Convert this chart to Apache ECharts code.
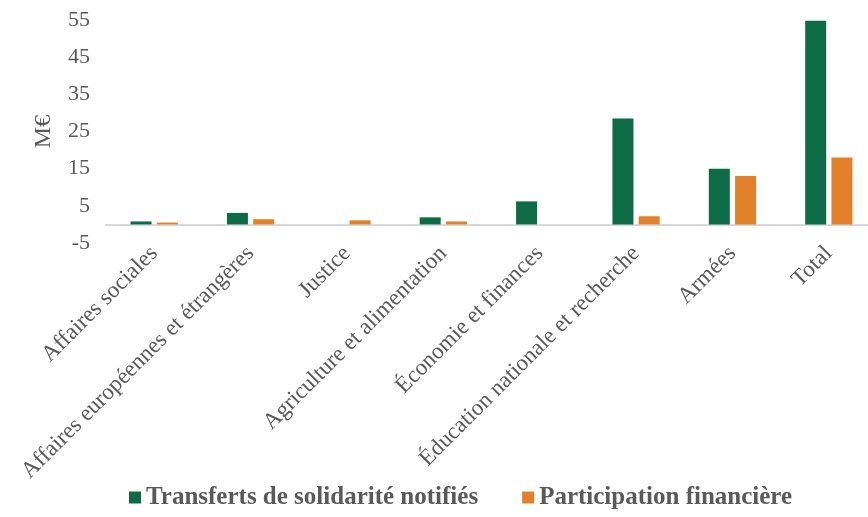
<!DOCTYPE html>
<html>
<head>
<meta charset="utf-8">
<script src="https://cdn.jsdelivr.net/npm/echarts@6/dist/echarts.min.js"></script>
<style>
  html, body { margin: 0; padding: 0; background: #fff; }
  #chart { width: 868px; height: 517px; }
</style>
</head>
<body>
<div id="chart"></div>
<script>
// ministries (x axis)
var categories = [
    "Affaires sociales",
    "Affaires européennes et étrangères",
    "Justice",
    "Agriculture et alimentation",
    "Économie et finances",
    "Éducation nationale et recherche",
    "Armées",
    "Total"
];
var transferts = [0.8, 3.1, 0, 1.9, 6.2, 28.5, 15.0, 54.8];
var participation = [0.5, 1.4, 1.1, 0.8, 0, 2.2, 13.0, 18.0];
var seriesNames = ["Transferts de solidarité notifiés", "Participation financière"];

var font = "'Liberation Serif', 'DejaVu Serif', serif";
var grey = "#595959";

var chart = echarts.init(document.getElementById("chart"));

var option = {
    animation: false,
    color: ["#0d6b47", "#e3802a"],
    textStyle: { fontFamily: font },
    legend: {
        bottom: 2,
        left: 124,
        itemWidth: 12,
        itemHeight: 12,
        itemGap: 44,
        icon: "rect",
        textStyle: { fontFamily: font, fontSize: 25, fontWeight: "bold", color: grey },
        data: seriesNames
    },
    grid: { left: 106, top: 20, width: 771, height: 223, outerBoundsMode: "none", containLabel: false },
    xAxis: {
        type: "category",
        data: categories,
        axisLine: { onZero: true, lineStyle: { color: "#d9d9d9", width: 2 } },
        axisTick: { show: false },
        axisLabel: {
            rotate: 45,
            interval: 0,
            fontFamily: font,
            fontSize: 23,
            color: grey,
            margin: 7
        }
    },
    yAxis: {
        type: "value",
        min: -5,
        max: 55,
        interval: 10,
        name: "M€",
        nameLocation: "middle",
        nameGap: 50,
        nameTextStyle: { fontFamily: font, fontSize: 24, color: grey },
        splitLine: { show: false },
        axisLine: { show: false },
        axisTick: { show: false },
        axisLabel: { fontFamily: font, fontSize: 22, color: grey, margin: 16 }
    },
    series: [
        {
            name: seriesNames[0],
            type: "bar",
            data: transferts,
            barWidth: 21,
            barGap: "25%"
        },
        {
            name: seriesNames[1],
            type: "bar",
            data: participation,
            barWidth: 21
        }
    ]
};

chart.setOption(option);
</script>
</body>
</html>
